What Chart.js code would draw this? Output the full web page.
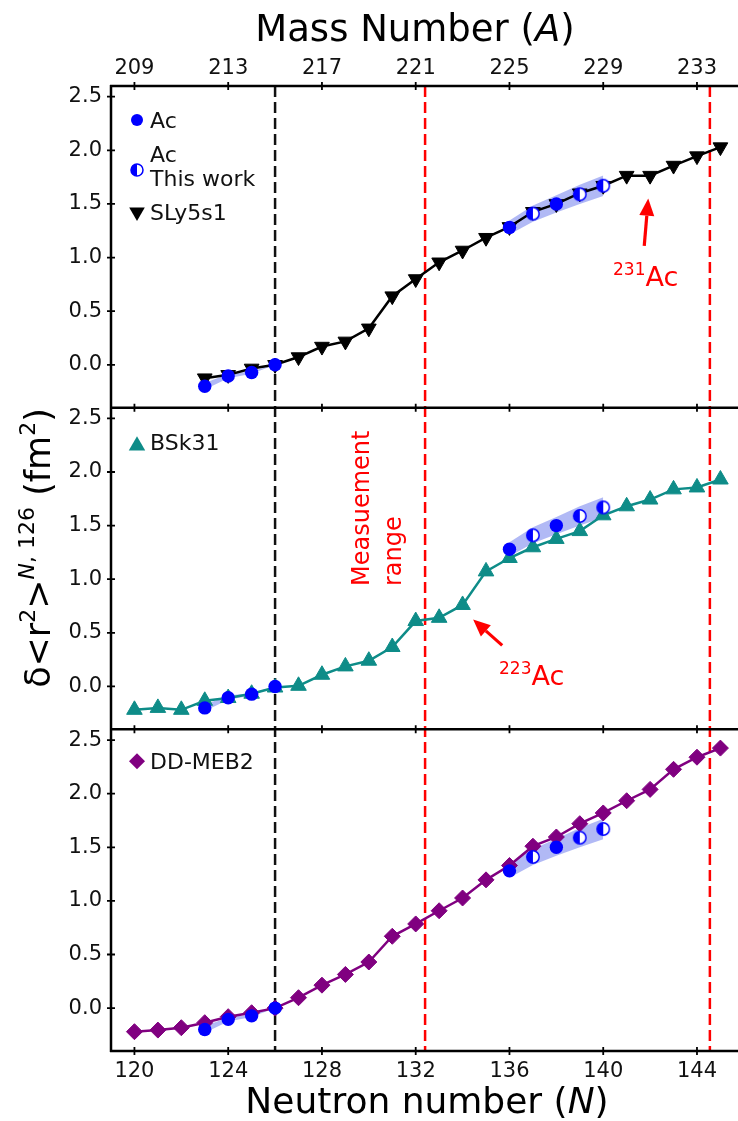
<!DOCTYPE html>
<html>
<head>
<meta charset="utf-8">
<script src="https://cdn.jsdelivr.net/npm/chart.js@4.4.1/dist/chart.umd.min.js"></script>
<style>
  html, body { margin: 0; padding: 0; background: #fff; }
  #wrap { position: relative; width: 738px; height: 1121px; }
</style>
</head>
<body>
<div id="wrap"><canvas id="chart"></canvas></div>
<script>
// axis ticks
const neutronTicks = [120, 124, 128, 132, 136, 140, 144];
const massTicks = [209, 213, 217, 221, 225, 229, 233];
const deltaTicks = [0, 0.5, 1.0, 1.5, 2.0, 2.5];

// experimental Ac values (fm^2)
const acN = [123, 124, 125, 126, 136, 138];
const acDelta = [-0.20, -0.105, -0.072, 0.0, 1.28, 1.50];
const acWorkN = [137, 139, 140];
const acWorkDelta = [1.41, 1.59, 1.67];

// uncertainty bands
const bandLightN = [123, 124, 125, 126];
const bandLightDelta = [-0.20, -0.105, -0.072, 0.0];
const bandLightErr = [0.03, 0.02, 0.012, 0.0];
const bandHeavyN = [136, 137, 138, 139, 140];
const bandHeavyDelta = [1.28, 1.41, 1.50, 1.59, 1.67];
const bandHeavyErr = [0.065, 0.075, 0.08, 0.09, 0.095];

// theory
const sly5s1N = [123, 124, 125, 126, 127, 128, 129, 130, 131, 132, 133, 134, 135,
  136, 137, 138, 139, 140, 141, 142, 143, 144, 145];
const sly5s1Delta = [-0.125, -0.094, -0.034, 0.0, 0.072, 0.17, 0.218, 0.34, 0.64, 0.80,
  0.956, 1.066, 1.185, 1.286, 1.427, 1.50, 1.60, 1.67, 1.764, 1.764, 1.858, 1.946, 2.03];
const bsk31N = [120, 121, 122, 123, 124, 125, 126, 127, 128, 129, 130, 131, 132,
  133, 134, 135, 136, 137, 138, 139, 140, 141, 142, 143, 144, 145];
const bsk31Delta = [-0.218, -0.20, -0.218, -0.134, -0.108, -0.068, -0.01, 0.006, 0.109,
  0.187, 0.24, 0.368, 0.61, 0.64, 0.76, 1.073, 1.198, 1.298, 1.376, 1.449, 1.596, 1.68,
  1.743, 1.838, 1.856, 1.93];
const ddmeb2N = [120, 121, 122, 123, 124, 125, 126, 127, 128, 129, 130, 131, 132,
  133, 134, 135, 136, 137, 138, 139, 140, 141, 142, 143, 144, 145];
const ddmeb2Delta = [-0.22, -0.205, -0.183, -0.136, -0.08, -0.043, 0.0, 0.097, 0.214,
  0.314, 0.43, 0.67, 0.785, 0.908, 1.027, 1.196, 1.33, 1.51, 1.596, 1.72, 1.82, 1.934,
  2.04, 2.227, 2.34, 2.425];

const Z_AC = 89;
const BLUE = '#0000ff';
const BAND = 'rgba(50, 70, 230, 0.38)';
const RED = '#ff0000';
const FONT = '"DejaVu Sans", Verdana, sans-serif';

Chart.defaults.font.family = FONT;

const panels = [
  { axis: 'yTop', label: 'SLy5s1', n: sly5s1N, d: sly5s1Delta, color: '#000000', style: 'triangle', rot: 180, r: 8.5 },
  { axis: 'yMid', label: 'BSk31', n: bsk31N, d: bsk31Delta, color: '#0e8c88', style: 'triangle', rot: 0, r: 9 },
  { axis: 'yBot', label: 'DD-MEB2', n: ddmeb2N, d: ddmeb2Delta, color: '#800080', style: 'rectRot', rot: 0, r: 8 }
];

function pts(ns, ds) {
  return ns.map((n, i) => ({ x: n, y: ds[i] }));
}
function shifted(ds, err, sign) {
  return ds.map((d, i) => d + sign * err[i]);
}

function drawHalf(g, x, y, r) {
  g.fillStyle = '#fff';
  g.beginPath(); g.arc(x, y, r, 0, Math.PI * 2); g.fill();
  g.fillStyle = BLUE;
  g.beginPath(); g.arc(x, y, r, Math.PI / 2, Math.PI * 3 / 2); g.closePath(); g.fill();
  g.strokeStyle = BLUE; g.lineWidth = 1.5;
  g.beginPath(); g.arc(x, y, r, 0, Math.PI * 2); g.stroke();
}

const halfImg = document.createElement('canvas');
halfImg.width = 16; halfImg.height = 16;
drawHalf(halfImg.getContext('2d'), 8, 8, 6.2);

const datasets = [];
panels.forEach(p => {
  const hidden = { yAxisID: p.axis, borderColor: 'rgba(0,0,0,0)', borderWidth: 0, pointRadius: 0, order: 3 };
  datasets.push(Object.assign({ data: pts(bandLightN, shifted(bandLightDelta, bandLightErr, 1)), fill: false }, hidden));
  datasets.push(Object.assign({ data: pts(bandLightN, shifted(bandLightDelta, bandLightErr, -1)), fill: '-1', backgroundColor: BAND }, hidden));
  datasets.push(Object.assign({ data: pts(bandHeavyN, shifted(bandHeavyDelta, bandHeavyErr, 1)), fill: false }, hidden));
  datasets.push(Object.assign({ data: pts(bandHeavyN, shifted(bandHeavyDelta, bandHeavyErr, -1)), fill: '-1', backgroundColor: BAND }, hidden));
  datasets.push({
    yAxisID: p.axis, data: pts(p.n, p.d), order: 2,
    borderColor: p.color, borderWidth: 2.5, fill: false, tension: 0,
    pointStyle: p.style, pointRotation: p.rot, pointRadius: p.r,
    pointBackgroundColor: p.color, pointBorderColor: p.color, pointBorderWidth: 1
  });
  datasets.push({
    yAxisID: p.axis, data: pts(acN, acDelta), order: 1, showLine: false,
    pointStyle: 'circle', pointRadius: 6.7, pointBackgroundColor: BLUE, pointBorderColor: BLUE, pointBorderWidth: 0
  });
  datasets.push({
    yAxisID: p.axis, data: pts(acWorkN, acWorkDelta), order: 1, showLine: false,
    pointStyle: halfImg, pointRadius: 6.5
  });
});

function yScale() {
  return {
    type: 'linear', position: 'left', stack: 'panels', stackWeight: 1,
    min: -0.4, max: 2.6,
    grid: { display: false, drawTicks: false }, border: { display: false },
    ticks: { padding: 9, color: '#111', font: { size: 21 }, callback: v => v.toFixed(1) },
    afterBuildTicks: s => { s.ticks = deltaTicks.map(v => ({ value: v })); },
    afterFit: s => { s.width = 111; }
  };
}

// text with pieces of different size / style
function rich(ctx, parts, x, y, align) {
  let total = 0;
  parts.forEach(p => {
    ctx.font = (p.it ? 'italic ' : '') + p.size + 'px ' + FONT;
    p.w = ctx.measureText(p.t).width;
    total += p.w;
  });
  let cx = align === 'center' ? x - total / 2 : x;
  ctx.textAlign = 'left';
  ctx.textBaseline = 'alphabetic';
  parts.forEach(p => {
    ctx.font = (p.it ? 'italic ' : '') + p.size + 'px ' + FONT;
    ctx.fillText(p.t, cx, y - (p.up || 0));
    cx += p.w;
  });
}

function arrow(ctx, x0, y0, x1, y1) {
  const ang = Math.atan2(y1 - y0, x1 - x0);
  const head = 17, half = 7.5;
  const bx = x1 - Math.cos(ang) * head, by = y1 - Math.sin(ang) * head;
  ctx.strokeStyle = RED; ctx.fillStyle = RED; ctx.lineWidth = 3.2;
  ctx.beginPath(); ctx.moveTo(x0, y0); ctx.lineTo(bx, by); ctx.stroke();
  ctx.beginPath(); ctx.moveTo(x1, y1);
  ctx.lineTo(bx + Math.sin(ang) * half, by - Math.cos(ang) * half);
  ctx.lineTo(bx - Math.sin(ang) * half, by + Math.cos(ang) * half);
  ctx.closePath(); ctx.fill();
}

function marker(ctx, kind, x, y, r, color) {
  ctx.fillStyle = color;
  ctx.beginPath();
  if (kind === 'circle') {
    ctx.arc(x, y, r, 0, Math.PI * 2);
  } else if (kind === 'down' || kind === 'up') {
    const s = kind === 'down' ? -1 : 1;
    ctx.moveTo(x, y - s * r);
    ctx.lineTo(x + r * 0.866, y + s * r * 0.5);
    ctx.lineTo(x - r * 0.866, y + s * r * 0.5);
  } else {
    ctx.moveTo(x - r, y); ctx.lineTo(x, y - r); ctx.lineTo(x + r, y); ctx.lineTo(x, y + r);
  }
  ctx.closePath();
  ctx.fill();
}

const decor = {
  id: 'decor',
  beforeDatasetsDraw(chart) {
    const { ctx, chartArea: a, scales } = chart;
    ctx.save();
    ctx.lineWidth = 2.5;
    ctx.setLineDash([11, 5]);
    [[126, '#111'], [132.4, RED], [144.55, RED]].forEach(([n, c]) => {
      const x = scales.x.getPixelForValue(n);
      ctx.strokeStyle = c;
      ctx.beginPath(); ctx.moveTo(x, a.top); ctx.lineTo(x, a.bottom); ctx.stroke();
    });
    ctx.restore();
  },
  afterDraw(chart) {
    const { ctx, chartArea: a, scales } = chart;
    const x = scales.x, xt = scales.xTop;
    ctx.save();
    // frame and panel separators
    ctx.strokeStyle = '#000';
    ctx.lineWidth = 2.5;
    const rows = [a.top, scales.yTop.bottom, scales.yMid.bottom, a.bottom];
    ctx.beginPath();
    ctx.moveTo(a.left, a.top - 1); ctx.lineTo(a.left, a.bottom + 1);
    rows.forEach(y => { ctx.moveTo(a.left - 1, y); ctx.lineTo(a.right, y); });
    ctx.stroke();
    // tick marks
    ctx.lineWidth = 1.8;
    ctx.beginPath();
    rows.forEach((y, i) => {
      const sc = i === 0 ? xt : x;
      const vals = i === 0 ? massTicks : neutronTicks;
      vals.forEach(v => {
        const px = sc.getPixelForValue(v);
        ctx.moveTo(px, y - 4); ctx.lineTo(px, y + 4);
      });
    });
    ['yTop', 'yMid', 'yBot'].forEach(id => {
      deltaTicks.forEach(v => {
        const py = scales[id].getPixelForValue(v);
        ctx.moveTo(a.left - 4, py); ctx.lineTo(a.left + 4, py);
      });
    });
    ctx.stroke();

    // legends
    const lx = a.left + 26;
    const tx = a.left + 39;
    ctx.fillStyle = '#111';
    ctx.font = '22px ' + FONT;
    ctx.textAlign = 'left';
    ctx.textBaseline = 'middle';
    const yT = scales.yTop.top, yM = scales.yMid.top, yB = scales.yBot.top;
    marker(ctx, 'circle', lx, yT + 34, 6, BLUE);
    ctx.fillStyle = '#111';
    ctx.fillText('Ac', tx, yT + 36);
    drawHalf(ctx, lx, yT + 84, 6);
    ctx.fillStyle = '#111';
    ctx.fillText('Ac', tx, yT + 70);
    ctx.fillText('This work', tx, yT + 94);
    marker(ctx, 'down', lx, yT + 126, 9, '#000');
    ctx.fillStyle = '#111';
    ctx.fillText('SLy5s1', tx, yT + 128);
    marker(ctx, 'up', lx, yM + 38, 9.5, panels[1].color);
    ctx.fillStyle = '#111';
    ctx.fillText('BSk31', tx, yM + 37);
    marker(ctx, 'diamond', lx, yB + 32, 8, panels[2].color);
    ctx.fillStyle = '#111';
    ctx.fillText('DD-MEB2', tx, yB + 34);

    // annotations
    arrow(ctx, x.getPixelForValue(141.75), scales.yTop.getPixelForValue(1.11),
      x.getPixelForValue(141.92), scales.yTop.getPixelForValue(1.55));
    arrow(ctx, x.getPixelForValue(135.69), scales.yMid.getPixelForValue(0.383),
      x.getPixelForValue(134.45), scales.yMid.getPixelForValue(0.624));
    ctx.fillStyle = RED;
    rich(ctx, [{ t: '231', size: 17, up: 11 }, { t: 'Ac', size: 27 }], 613, 286, 'left');
    rich(ctx, [{ t: '223', size: 17, up: 11 }, { t: 'Ac', size: 27 }], 499, 685, 'left');

    ctx.font = '24px ' + FONT;
    ctx.textAlign = 'left';
    ctx.textBaseline = 'alphabetic';
    [['Measuement', 369], ['range', 401]].forEach(([t, bx]) => {
      ctx.save();
      ctx.translate(bx, 586);
      ctx.rotate(-Math.PI / 2);
      ctx.fillText(t, 0, 0);
      ctx.restore();
    });

    // axis titles
    ctx.fillStyle = '#000';
    rich(ctx, [{ t: 'Neutron number (', size: 36 }, { t: 'N', size: 36, it: true }, { t: ')', size: 36 }], 427, 1113, 'center');
    rich(ctx, [{ t: 'Mass Number (', size: 37 }, { t: 'A', size: 37, it: true }, { t: ')', size: 37 }], 415, 41, 'center');
    ctx.save();
    ctx.translate(50, 548);
    ctx.rotate(-Math.PI / 2);
    rich(ctx, [
      { t: '\u03b4<r', size: 35 }, { t: '2', size: 22, up: 15 }, { t: '>', size: 35 },
      { t: 'N', size: 22, it: true, up: 16 }, { t: ', 126', size: 22, up: 16 },
      { t: ' (fm', size: 35 }, { t: '2', size: 22, up: 15 }, { t: ')', size: 35 }
    ], 0, 0, 'center');
    ctx.restore();
    ctx.restore();
  }
};

new Chart(document.getElementById('chart'), {
  type: 'line',
  data: { datasets: datasets },
  options: {
    responsive: true,
    maintainAspectRatio: false,
    animation: false,
    layout: { padding: 0, autoPadding: false },
    plugins: { legend: { display: false }, tooltip: { enabled: false } },
    scales: {
      x: {
        type: 'linear', position: 'bottom', min: 119, max: 145.75,
        grid: { display: false, drawTicks: false }, border: { display: false },
        ticks: { padding: 8, color: '#111', font: { size: 21 }, autoSkip: false, maxRotation: 0, callback: v => String(v) },
        afterBuildTicks: s => { s.ticks = neutronTicks.map(v => ({ value: v })); },
        afterFit: s => { s.height = 70; }
      },
      xTop: {
        type: 'linear', position: 'top', min: 119 + Z_AC, max: 145.75 + Z_AC,
        grid: { display: false, drawTicks: false }, border: { display: false },
        ticks: { padding: 5, color: '#111', font: { size: 21 }, autoSkip: false, maxRotation: 0, callback: v => String(v) },
        afterBuildTicks: s => { s.ticks = massTicks.map(v => ({ value: v })); },
        afterFit: s => { s.height = 86; }
      },
      yBot: yScale(),
      yMid: yScale(),
      yTop: yScale()
    }
  },
  plugins: [decor]
});
</script>
</body>
</html>
